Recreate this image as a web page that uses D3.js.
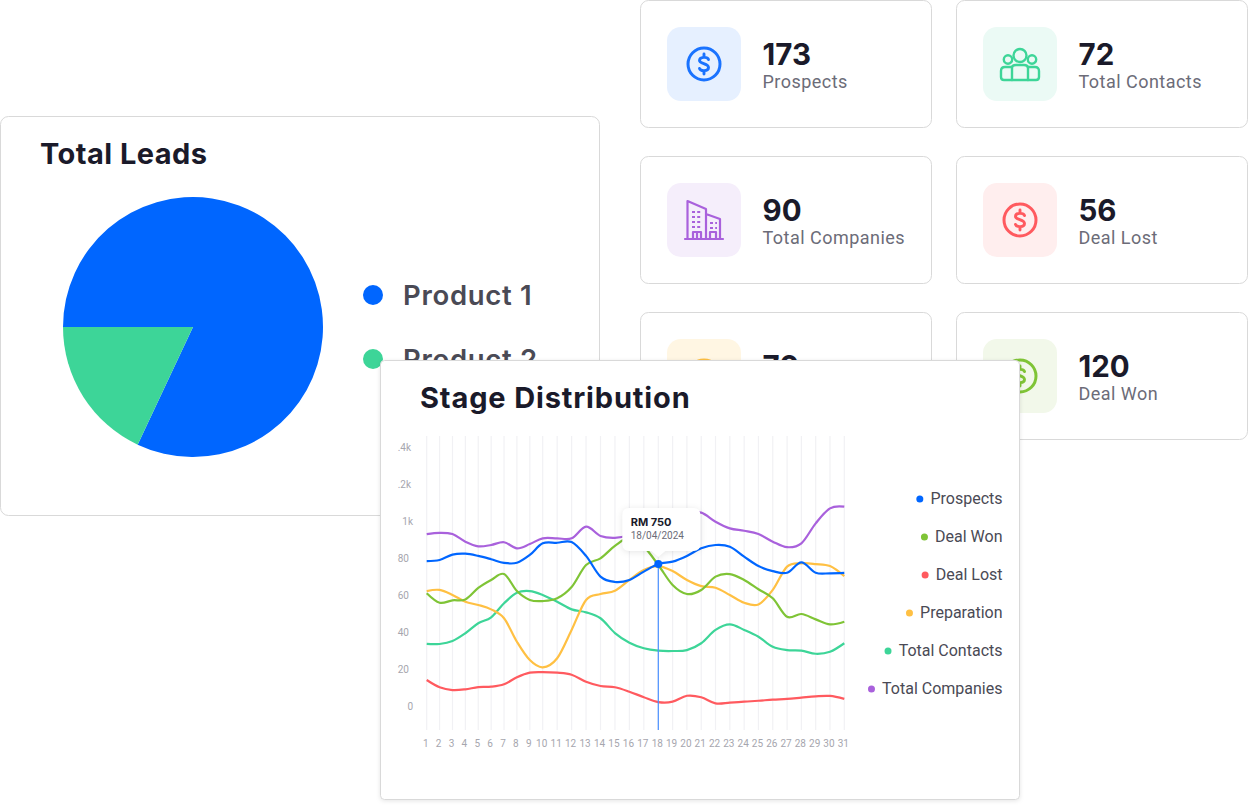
<!DOCTYPE html>
<html>
<head>
<meta charset="utf-8">
<script src="https://cdn.jsdelivr.net/npm/d3@7"></script>
<style>
    html, body { margin: 0; padding: 0; background: #fff; overflow: hidden; }
    svg { display: block; }
    text { font-family: Roboto, sans-serif; }
    text.head { font-family: Inter, sans-serif; font-weight: 700; fill: #1a1a2a; }
</style>
</head>
<body>
<svg id="page" width="1248" height="805"></svg>
<script>
// pie
const pieNames = ['Product 1', 'Product 2'];
const pieValues = [82, 18];
const pieColors = ['#0066ff', '#3dd598'];

// stat cards
const cardNumbers = ['173', '72', '90', '56', '70', '120'];
const cardLabels = ['Prospects', 'Total Contacts', 'Total Companies', 'Deal Lost', 'Preparation', 'Deal Won'];
const cardColors = ['#1a73ff', '#3dd598', '#a961dc', '#ff5a5f', '#ffc043', '#7fc436'];
const cardBacks = ['#e6f0ff', '#ebfaf5', '#f5eefb', '#ffeeee', '#fff6e3', '#f2f8ea'];
const cardIcons = ['dollar', 'people', 'building', 'dollar', 'dollar', 'dollar'];

// stage chart
const days = d3.range(1, 32);
const yTickValues = [0, 20, 40, 60, 80, 100, 120, 140];
const yTickLabels = ['0', '20', '40', '60', '80', '1k', '.2k', '.4k'];

const prospects = [78.6, 79.2, 82.1, 82.6, 81.4, 79.6, 77.6, 77.7, 81.9, 88.2, 88.5, 88.9, 81.4, 70.2, 67.3, 68.4, 72.9, 77, 78.3, 81.4, 85.5, 87.3, 86.4, 81, 75.9, 73.2, 72.3, 77.9, 72.3, 72, 72.2];
const dealWon = [61.2, 56.1, 57.4, 57.9, 64.1, 68.4, 71.6, 62.4, 57.6, 57, 58.5, 64.6, 76.5, 80.1, 86.8, 91.1, 86.4, 76.5, 65.7, 60.8, 63, 70.2, 71.6, 68.4, 63.4, 58.5, 48.5, 50, 47.1, 44.4, 45.8];
const dealLost = [14.3, 10.4, 8.9, 9.3, 10.5, 10.7, 12, 15.8, 18.3, 18.6, 18.3, 17.2, 13.4, 11.1, 10.4, 8, 5, 2.4, 2.6, 5.8, 5, 1.7, 2.1, 2.6, 3.1, 3.7, 4.1, 4.8, 5.5, 5.7, 4.1];
const preparation = [62.4, 63, 60.3, 56.6, 54.9, 52.5, 47.7, 35, 25.1, 21.2, 26.1, 41.4, 57.6, 60.8, 62.6, 68.4, 73.8, 75.9, 73.2, 68.4, 65.1, 64.2, 60.3, 56.1, 55.2, 63, 75.6, 77.4, 77, 75.9, 70.5];
const totalContacts = [33.8, 33.8, 35.4, 39.6, 45, 48.2, 55.8, 61.5, 62.4, 60.3, 56.6, 52.5, 50.9, 47.7, 39.7, 34.5, 31.5, 30.2, 30, 30.5, 34.2, 41.4, 44.4, 41.4, 37.7, 32.3, 30.5, 30.2, 28.5, 29.6, 34.2];
const totalCompanies = [93.2, 93.9, 93.2, 89.1, 86.6, 87.3, 88.8, 85.5, 87.8, 90.9, 90.9, 90.9, 97.2, 92.2, 91.2, 92.7, 96, 100, 103, 104.5, 104.8, 99.9, 96.3, 95, 93.2, 89.1, 86.1, 88.2, 99, 107.1, 108];

const seriesNames = ['Prospects', 'Deal Won', 'Deal Lost', 'Preparation', 'Total Contacts', 'Total Companies'];
const seriesValues = [prospects, dealWon, dealLost, preparation, totalContacts, totalCompanies];
const seriesColors = ['#0066ff', '#7fc436', '#ff5a5f', '#ffc043', '#3dd598', '#a961dc'];

const tipDay = 18;
const tipValue = 'RM 750';
const tipDate = '18/04/2024';

const svg = d3.select('#page');
const borderColor = '#d9d9d9';

function drawIcon(g, type, color) {
    // icons are drawn around 0,0, about 34px wide
    g.attr('fill', 'none').attr('stroke', color).attr('stroke-width', 3)
        .attr('stroke-linecap', 'round').attr('stroke-linejoin', 'round');
    if (type === 'dollar') {
        g.append('circle').attr('r', 16);
        g.append('path').attr('stroke-width', 2.9)
            .attr('d', 'M4.5,-4.5 C3.5,-7.5 -4.5,-7.5 -4.5,-3.5 C-4.5,0 4.5,-0.5 4.5,3.5 C4.5,7.5 -3.5,7.5 -4.5,4.5 M0,-10 V-7 M0,7 V10');
    } else if (type === 'people') {
        g.attr('stroke-width', 2.4);
        g.append('circle').attr('cy', -8.5).attr('r', 6.5);
        g.append('circle').attr('cx', -12).attr('cy', -4.5).attr('r', 4.2);
        g.append('circle').attr('cx', 12).attr('cy', -4.5).attr('r', 4.2);
        g.append('path').attr('d', 'M-8,16 V4 Q-8,1 -4,1 H4 Q8,1 8,4 V16');
        g.append('path').attr('d', 'M-8,3 H-15 Q-19,3 -19,7 V13 Q-19,16 -16,16 H16 Q19,16 19,13 V7 Q19,3 15,3 H8');
    } else if (type === 'building') {
        g.attr('stroke-width', 2.2);
        g.append('path').attr('d', 'M-19,19 H19 M-16.5,19 V-19 L2,-11 V19 M2,-6 L16,-1 V19');
        g.append('path').attr('stroke-dasharray', '3 2.2').attr('stroke-linecap', 'butt')
            .attr('d', 'M-12,-8 H-2 M-12,-3 H-2 M-12,2 H-2 M-12,7 H-2 M6,3 H13 M6,8 H13');
        g.append('path').attr('d', 'M-11,19 V12 H-3 V19 M-7,12 V19 M6,19 V12 H12 V19');
    }
}

// stat cards, behind the other panels
cardNumbers.forEach((num, i) => {
    const col = i % 2;
    const row = Math.floor(i / 2);
    const g = svg.append('g').attr('transform', `translate(${640.5 + col * 316}, ${0.5 + row * 156})`);
    g.append('rect').attr('width', 291).attr('height', 127).attr('rx', 8)
        .attr('fill', '#fff').attr('stroke', borderColor);
    g.append('rect').attr('x', 26.5).attr('y', 26.5).attr('width', 74).attr('height', 74).attr('rx', 14)
        .attr('fill', cardBacks[i]);
    drawIcon(g.append('g').attr('transform', 'translate(63.5, 63.5)'), cardIcons[i], cardColors[i]);
    g.append('text').attr('class', 'head').attr('x', 122).attr('y', 64)
        .attr('font-size', 29.5).text(num);
    g.append('text').attr('x', 122).attr('y', 87).attr('font-size', 18)
        .style('letter-spacing', '0.47px')
        .attr('fill', '#6c6c78').text(cardLabels[i]);
});

// total leads panel
const leads = svg.append('g').attr('transform', 'translate(0.5, 116.5)');
leads.append('rect').attr('width', 599).attr('height', 399).attr('rx', 8)
    .attr('fill', '#fff').attr('stroke', borderColor);
leads.append('text').attr('class', 'head').attr('x', 39.5).attr('y', 47.5)
    .attr('font-size', 29).style('letter-spacing', '0.45px').text('Total Leads');

const pie = d3.pie().sort(null).startAngle(-Math.PI / 2).endAngle(Math.PI * 1.5);
const arc = d3.arc().innerRadius(0).outerRadius(130);
svg.append('g').attr('transform', 'translate(193, 327)')
    .selectAll('path')
    .data(pie(pieValues))
    .enter()
    .append('path')
    .attr('d', arc)
    .attr('fill', (d, i) => pieColors[i]);

pieNames.forEach((name, i) => {
    const y = 295 + i * 64;
    svg.append('circle').attr('cx', 373).attr('cy', y).attr('r', 10).attr('fill', pieColors[i]);
    svg.append('text').attr('x', 403).attr('y', y + 10).attr('font-size', 27.5).attr('font-weight', 600)
        .style('font-family', 'Inter, sans-serif').style('letter-spacing', '0.7px')
        .attr('fill', '#4a4a55').text(name);
});

// stage distribution panel
const shadow = svg.append('defs').append('filter').attr('id', 'soft')
    .attr('x', '-20%').attr('y', '-20%').attr('width', '140%').attr('height', '140%');
shadow.append('feDropShadow').attr('dx', 0).attr('dy', 1).attr('stdDeviation', 2)
    .attr('flood-color', '#000').attr('flood-opacity', 0.1);

svg.append('rect').attr('x', 380.5).attr('y', 360.5).attr('width', 639).attr('height', 439).attr('rx', 4)
    .attr('fill', '#fff').attr('stroke', borderColor).attr('filter', 'url(#soft)');
svg.append('text').attr('class', 'head').attr('x', 420).attr('y', 408)
    .attr('font-size', 29).style('letter-spacing', '0.85px').text('Stage Distribution');

// one digit days sit closer together than two digit days
const x = d3.scaleLinear().domain([1, 10, 18, 31]).range([426.7, 542.7, 658.3, 844.3]);
const y = d3.scaleLinear().domain([0, 140]).range([706.5, 447.5]);

svg.append('g').selectAll('line')
    .data(days)
    .enter()
    .append('line')
    .attr('x1', d => x(d))
    .attr('x2', d => x(d))
    .attr('y1', 436)
    .attr('y2', 730)
    .attr('stroke', '#f1f1f4')
    .attr('stroke-width', 1.2);

svg.append('g').selectAll('text')
    .data(days)
    .enter()
    .append('text')
    .attr('x', d => x(d) - 1)
    .attr('y', 746.5)
    .attr('text-anchor', 'middle')
    .attr('font-size', 10)
    .attr('fill', '#a6a6ae')
    .text(d => d);

// the labels were cut at the left edge, so they do not share one right edge
function tickEnd(label) {
    if (label === '0' || label === '1k') return 413;
    return label[0] === '.' ? 411 : 409;
}

svg.append('g').selectAll('text')
    .data(yTickValues)
    .enter()
    .append('text')
    .attr('x', (d, i) => tickEnd(yTickLabels[i]))
    .attr('y', d => y(d) + 3.5)
    .attr('text-anchor', 'end')
    .attr('font-size', 10)
    .attr('fill', '#a6a6ae')
    .text((d, i) => yTickLabels[i]);

const line = d3.line()
    .x((d, i) => x(days[i]))
    .y(d => y(d))
    .curve(d3.curveCatmullRom.alpha(0));

// drawn in this order so prospects and companies end up on top
[4, 2, 3, 1, 5, 0].forEach(k => {
    svg.append('path')
        .attr('d', line(seriesValues[k]))
        .attr('fill', 'none')
        .attr('stroke', seriesColors[k])
        .attr('stroke-width', 2.2);
});

// hover marker and tooltip
const tipX = x(tipDay);
const tipY = y(prospects[tipDay - 1]);
svg.append('line').attr('x1', tipX).attr('x2', tipX).attr('y1', tipY).attr('y2', 730)
    .attr('stroke', '#4a90ff').attr('stroke-width', 1.2);
svg.append('circle').attr('cx', tipX).attr('cy', tipY).attr('r', 4).attr('fill', '#0066ff');

const tip = svg.append('g').attr('transform', `translate(${tipX}, ${tipY})`);
tip.append('path')
    .attr('d', 'M-29,-56 H35 Q42,-56 42,-49 V-20 Q42,-13 35,-13 H7 L0,-7 L-7,-13 H-29 Q-36,-13 -36,-20 V-49 Q-36,-56 -29,-56 Z')
    .attr('fill', '#fff')
    .style('filter', 'drop-shadow(0 1px 3px rgba(0,0,0,0.10))');
tip.append('text').attr('x', -27.6).attr('y', -38).attr('font-size', 11).attr('font-weight', 700)
    .style('font-family', 'Inter, sans-serif').attr('fill', '#1a1a2a').text(tipValue);
tip.append('text').attr('x', -27.6).attr('y', -25).attr('font-size', 10)
    .attr('fill', '#6c6c78').text(tipDate);

// legend, right aligned
seriesNames.forEach((name, i) => {
    const ly = 499 + i * 38;
    const label = svg.append('text').attr('x', 1002.5).attr('y', ly + 5)
        .attr('text-anchor', 'end').attr('font-size', 16).attr('fill', '#4a4a55').text(name);
    const w = label.node().getComputedTextLength();
    svg.append('circle').attr('cx', 1002.5 - w - 10.6).attr('cy', ly).attr('r', 3.5).attr('fill', seriesColors[i]);
});
</script>
</body>
</html>
